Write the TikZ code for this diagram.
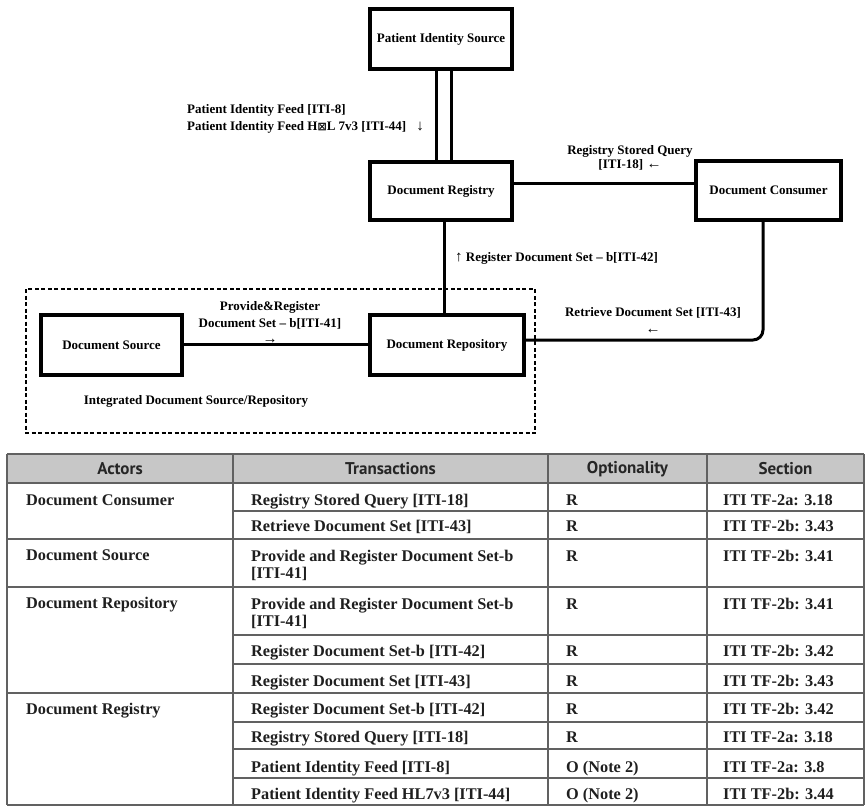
\documentclass[tikz,border=0pt]{standalone}
\usepackage{fontspec}
\setmainfont{Liberation Serif}
\newfontfamily\hdrfont{PT Sans}
\newfontfamily\symfont{DejaVu Sans}
\newcommand{\arw}[1]{{\mdseries\fontsize{15}{15}\selectfont #1}}
\begin{document}
\begin{tikzpicture}[x=1pt,y=-1pt,
  actor/.style={draw, line width=4pt, minimum width=#1, inner sep=0pt,
    font=\fontsize{13}{15}\selectfont\bfseries},
  conn/.style={line width=3pt},
  lbl/.style={font=\fontsize{13}{16.5}\selectfont\bfseries, inner sep=0pt, align=center},
  gridline/.style={draw=black!62, line width=1.6pt},
  cell/.style={anchor=base west, inner sep=0pt, font=\fontsize{16.3}{16}\selectfont\bfseries, text=black!88},
  hcell/.style={inner sep=0pt, font=\fontsize{17}{17}\selectfont\hdrfont\bfseries, text=black!85}
]
\useasboundingbox (0,0) rectangle (866,806);
\fill[white] (0,0) rectangle (866,806);

% ---------- actors ----------
\node[actor=142pt, minimum height=60pt] (pis) at (441,39) {Patient Identity Source};
\node[actor=142pt, minimum height=58pt] (reg) at (441,191) {Document Registry};
\node[actor=145pt, minimum height=59pt] (con) at (768.5,190.5) {Document Consumer};
\node[actor=141pt, minimum height=60pt] (src) at (111.5,345) {Document Source};
\node[actor=154pt, minimum height=60pt] (rep) at (447,345) {Document Repository};

% helper coordinates
\coordinate (yq) at (0,183);
\coordinate (xr) at (444,0);
\coordinate (yp) at (0,344);
\coordinate (yt) at (0,340);
\coordinate (xc) at (763,0);

% ---------- connectors ----------
\draw[conn] ([xshift=-5pt]pis.south) -- ([xshift=-5pt]reg.north);
\draw[conn] ([xshift=10pt]pis.south) -- ([xshift=10pt]reg.north);
\draw[conn] (reg.east |- yq) -- (con.west |- yq);
\draw[conn] (reg.south -| xr) -- (rep.north -| xr);
\draw[conn] (src.east |- yp) -- (rep.west |- yp);
\draw[conn, rounded corners=10pt] (rep.east |- yt) -- (xc |- yt) -- (con.south -| xc);

% group frame
\draw[line width=2pt, dash pattern=on 4pt off 2.5pt] (26,289) rectangle (535,433);

% ---------- labels ----------
\node[lbl, anchor=west, align=left, font=\fontsize{13}{17}\selectfont\bfseries] (lpif) at (187,118.5)
  {Patient Identity Feed [ITI-8]\\Patient Identity Feed H{\symfont\fontsize{11}{11}\selectfont ⊠}L 7v3 [ITI-44]};
\node[lbl] (lpifa) at (420,127) {\arw{↓}};
\node[lbl, font=\fontsize{13}{14}\selectfont\bfseries] (lrsq) at (630,158) {Registry Stored Query\\{[ITI-18] \arw{←}}};
\node[lbl, anchor=west] (lrds) at (455,258) {\arw{↑} Register Document Set – b[ITI-42]};
\node[lbl] (lprd) at (270,322.5) {Provide\&Register\\Document Set – b[ITI-41]\\\arw{→}};
\node[lbl, font=\fontsize{13}{17}\selectfont\bfseries] (lret) at (653,320.5) {Retrieve Document Set [ITI-43]\\\arw{←}};
\node[lbl] (lint) at (196,401) {Integrated Document Source/Repository};

% ---------- table ----------
\fill[black!22] (7,454) rectangle (864,483);
\foreach \yy in {454,483,539,587,693,805} \draw[gridline] (7,\yy) -- (864,\yy);
\foreach \yy in {511,635,664,722,749,778} \draw[gridline] (233,\yy) -- (864,\yy);
\foreach \xx in {7,233,548,707,864} \draw[gridline] (\xx,454) -- (\xx,805);

\node[hcell] (h1) at (120,469) {Actors};
\node[hcell] (h2) at (390.5,469) {Transactions};
\node[hcell] (h3) at (627.5,469) {Optionality};
\node[hcell] (h4) at (785.5,469) {Section};

% actors column
\node[cell] (a1) at (26,505) {Document Consumer};
\node[cell] (a2) at (26,560) {Document Source};
\node[cell] (a3) at (26,608) {Document Repository};
\node[cell] (a4) at (26,714) {Document Registry};

% transaction rows
\node[cell] (t1) at (251,505) {Registry Stored Query [ITI-18]};
\node[cell] (o1) at (566,505) {R};
\node[cell] (s1) at (723,505) {ITI TF-2a: 3.18};

\node[cell] (t2) at (251,531) {Retrieve Document Set [ITI-43]};
\node[cell] (o2) at (566,531) {R};
\node[cell] (s2) at (723,531) {ITI TF-2b: 3.43};

\node[cell] (t3) at (251,561) {Provide and Register Document Set-b};
\node[cell] (t3b) at (251,578) {[ITI-41]};
\node[cell] (o3) at (566,561) {R};
\node[cell] (s3) at (723,561) {ITI TF-2b: 3.41};

\node[cell] (t4) at (251,609) {Provide and Register Document Set-b};
\node[cell] (t4b) at (251,626) {[ITI-41]};
\node[cell] (o4) at (566,609) {R};
\node[cell] (s4) at (723,609) {ITI TF-2b: 3.41};

\node[cell] (t5) at (251,656) {Register Document Set-b [ITI-42]};
\node[cell] (o5) at (566,656) {R};
\node[cell] (s5) at (723,656) {ITI TF-2b: 3.42};

\node[cell] (t6) at (251,686) {Register Document Set [ITI-43]};
\node[cell] (o6) at (566,686) {R};
\node[cell] (s6) at (723,686) {ITI TF-2b: 3.43};

\node[cell] (t7) at (251,714) {Register Document Set-b [ITI-42]};
\node[cell] (o7) at (566,714) {R};
\node[cell] (s7) at (723,714) {ITI TF-2b: 3.42};

\node[cell] (t8) at (251,742) {Registry Stored Query [ITI-18]};
\node[cell] (o8) at (566,742) {R};
\node[cell] (s8) at (723,742) {ITI TF-2a: 3.18};

\node[cell] (t9) at (251,772) {Patient Identity Feed [ITI-8]};
\node[cell] (o9) at (566,772) {O (Note 2)};
\node[cell] (s9) at (723,772) {ITI TF-2a: 3.8};

\node[cell] (t10) at (251,799) {Patient Identity Feed HL7v3 [ITI-44]};
\node[cell] (o10) at (566,799) {O (Note 2)};
\node[cell] (s10) at (723,799) {ITI TF-2b: 3.44};
\end{tikzpicture}
\end{document}
